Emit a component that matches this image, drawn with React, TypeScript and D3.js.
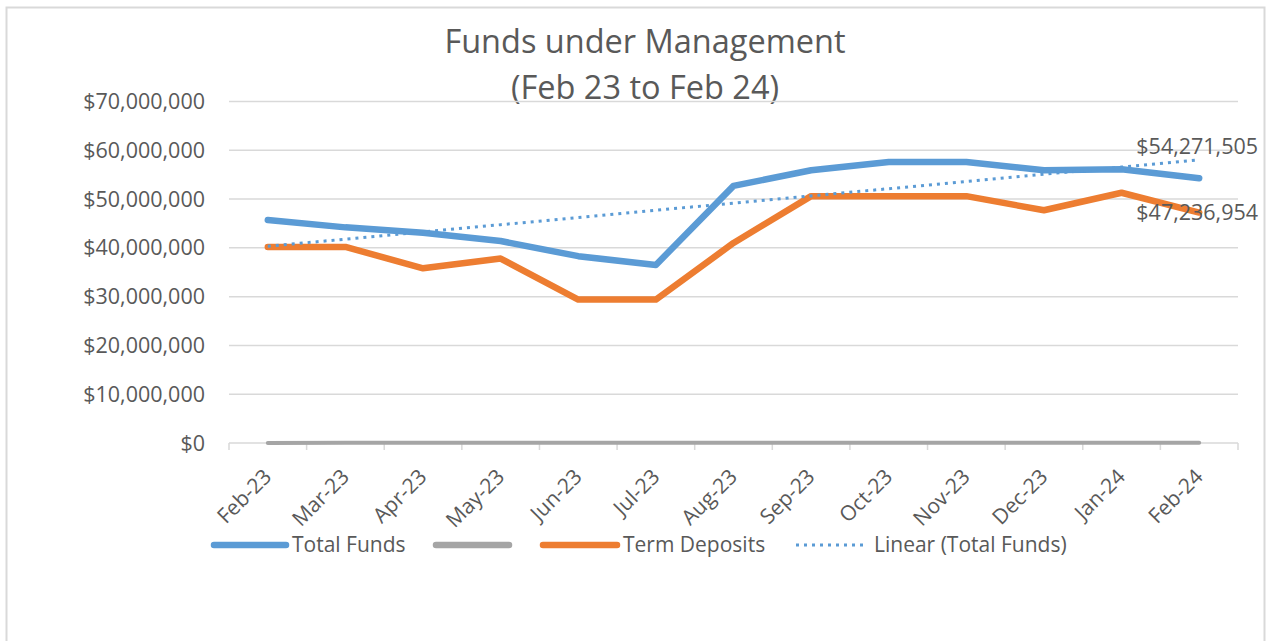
import React from "react";
import * as d3 from "d3";

const categories = ["Feb-23","Mar-23","Apr-23","May-23","Jun-23","Jul-23","Aug-23","Sep-23","Oct-23","Nov-23","Dec-23","Jan-24","Feb-24"];
const totalFunds = [45700000,44200000,43100000,41400000,38300000,36500000,52700000,55900000,57600000,57600000,55900000,56100000,54271505];
const otherSeries = [0,50000,50000,50000,50000,50000,50000,50000,50000,50000,50000,50000,50000];
const termDeposits = [40200000,40200000,35800000,37800000,29400000,29400000,41000000,50600000,50600000,50600000,47700000,51300000,47236954];
const yTicks = [0,10000000,20000000,30000000,40000000,50000000,60000000,70000000];
const titleLines = ["Funds under Management","(Feb 23 to Feb 24)"];
const legendLabels = ["Total Funds","","Term Deposits","Linear (Total Funds)"];

const BLUE = "#5B9BD5";
const ORANGE = "#ED7D31";
const GRAY = "#A5A5A5";
const TEXT = "#595959";
const GRID = "#D9D9D9";
const FONT = "'Open Sans', sans-serif";

export default function App() {
  const left = 229, right = 1238, top = 101.5, bottom = 443;
  const x = d3.scaleBand<string>().domain(categories).range([left, right]);
  const cx = (c: string) => (x(c) as number) + x.bandwidth() / 2;
  const y = d3.scaleLinear().domain([0, 70000000]).range([bottom, top]);
  const fmt = (v: number) => "$" + d3.format(",")(Math.round(v));

  const line = d3.line<number>().x((_, i) => cx(categories[i])).y(v => y(v));

  // linear trendline (least squares) of Total Funds
  const n = totalFunds.length;
  const xs = d3.range(n);
  const mx = d3.mean(xs) as number;
  const my = d3.mean(totalFunds) as number;
  const slope = d3.sum(xs, i => (i - mx) * (totalFunds[i] - my)) / d3.sum(xs, i => (i - mx) ** 2);
  const icpt = my - slope * mx;
  const trend = xs.map(i => icpt + slope * i);

  const last = categories[n - 1];
  const ticksX = d3.range(categories.length + 1).map(i => left + i * x.step());

  const legendItems = [
    { x1: 214, x2: 286, color: BLUE, dash: false, label: legendLabels[0] },
    { x1: 436, x2: 509, color: GRAY, dash: false, label: legendLabels[1] },
    { x1: 543, x2: 617, color: ORANGE, dash: false, label: legendLabels[2] },
    { x1: 796, x2: 864, color: BLUE, dash: true, label: legendLabels[3] },
  ];
  const legendY = 545;

  return (
    <svg width={1266} height={641} style={{ position: "absolute", left: 0, top: 0, background: "#fff" }} fontFamily={FONT}>
      <rect x={6.5} y={7.5} width={1258} height={700} fill="#fff" stroke={GRID} strokeWidth={2} />
      {titleLines.map((t, i) => (
        <text key={i} x={645} y={53 + i * 46} textAnchor="middle" fontSize={32.5} fill={TEXT}>{t}</text>
      ))}
      {yTicks.map(t => (
        <g key={t}>
          {t > 0 && <line x1={left} x2={right} y1={y(t)} y2={y(t)} stroke={GRID} strokeWidth={1.5} />}
          <text x={205} y={y(t)} dy="0.35em" textAnchor="end" fontSize={21.5} fill={TEXT}>{fmt(t)}</text>
        </g>
      ))}
      <line x1={left} x2={right} y1={bottom} y2={bottom} stroke={GRID} strokeWidth={1.5} />
      {ticksX.map((tx, i) => (
        <line key={i} x1={tx} x2={tx} y1={bottom} y2={bottom + 7} stroke={GRID} strokeWidth={1.5} />
      ))}
      {categories.map(c => (
        <text key={c} transform={`translate(${cx(c) + 5},${bottom + 35}) rotate(-45)`} textAnchor="end" fontSize={21} fill={TEXT}>{c}</text>
      ))}
      <path d={line(otherSeries) || ""} fill="none" stroke={GRAY} strokeWidth={4} strokeLinecap="round" strokeLinejoin="round" />
      <path d={line(totalFunds) || ""} fill="none" stroke={BLUE} strokeWidth={6.5} strokeLinecap="round" strokeLinejoin="round" />
      <path d={line(termDeposits) || ""} fill="none" stroke={ORANGE} strokeWidth={6.5} strokeLinecap="round" strokeLinejoin="round" />
      <path d={line(trend) || ""} fill="none" stroke={BLUE} strokeWidth={3} strokeDasharray="3 5" />
      <text x={cx(last) - 2} y={y(totalFunds[n - 1]) - 32} dy="0.35em" textAnchor="middle" fontSize={21.5} fill={TEXT}>{fmt(totalFunds[n - 1])}</text>
      <text x={cx(last) - 2} y={y(termDeposits[n - 1])} dy="0.35em" textAnchor="middle" fontSize={21.5} fill={TEXT}>{fmt(termDeposits[n - 1])}</text>
      {legendItems.map((it, i) => (
        <g key={i}>
          <line x1={it.x1} x2={it.x2} y1={legendY} y2={legendY} stroke={it.color}
            strokeWidth={it.dash ? 3 : 6.5} strokeLinecap={it.dash ? "butt" : "round"} strokeDasharray={it.dash ? "3 5" : undefined} />
          {it.label && <text x={it.x2 + (it.dash ? 10 : 6)} y={legendY} dy="0.35em" fontSize={21} fill={TEXT}>{it.label}</text>}
        </g>
      ))}
    </svg>
  );
}
